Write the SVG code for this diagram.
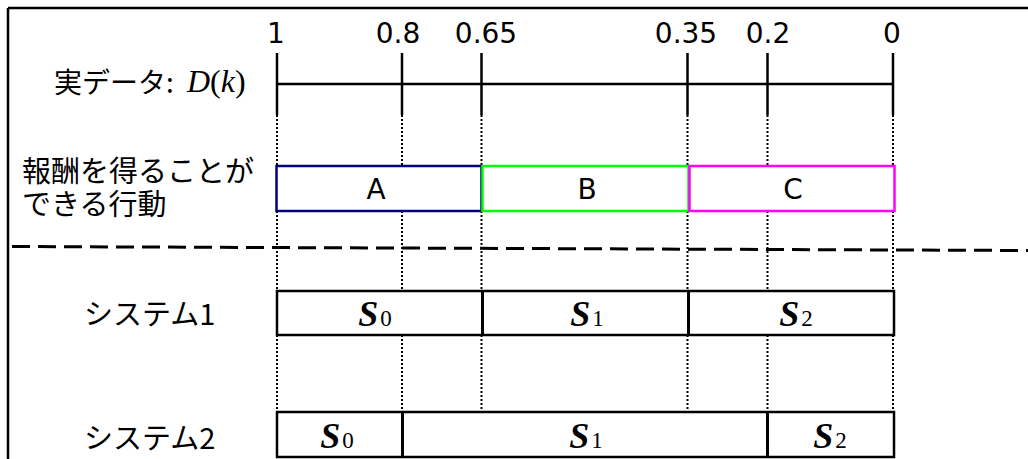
<svg xmlns="http://www.w3.org/2000/svg" width="1028" height="459" viewBox="0 0 1028 459">
<style>
.jp{font-family:"Noto Sans CJK JP","Noto Sans",sans-serif;fill:#000}
.num{font-family:"DejaVu Sans",Verdana,sans-serif;font-size:28px;fill:#000;text-anchor:middle}
.tm{font-family:"Liberation Serif","Times New Roman",serif;fill:#000}
.dot{stroke:#000;stroke-width:2;stroke-dasharray:2 2;fill:none}
.box{fill:#fff;stroke-width:2.5}
.sys{fill:#fff;stroke:#000;stroke-width:2.5}
.s{font-family:"Liberation Serif","Times New Roman",serif;font-style:italic;font-weight:bold;font-size:36px;fill:#000}
.sub{font-family:"Liberation Serif","Times New Roman",serif;font-style:normal;font-weight:normal;font-size:23px}
</style>
<rect width="1028" height="459" fill="#fff"/>
<g id="frame" stroke="#000" stroke-width="2.5" fill="none">
<line x1="8" y1="8" x2="1028" y2="8"/>
<line x1="8" y1="8" x2="8" y2="459"/>
</g>
<g id="connectors">
<line x1="12" y1="246.5" x2="1028" y2="250.5" stroke="#000" stroke-width="3" stroke-dasharray="18 8"/>
<line class="dot" x1="277" y1="115" x2="277" y2="412"/>
<line class="dot" x1="402" y1="115" x2="402" y2="412"/>
<line class="dot" x1="481.5" y1="115" x2="481.5" y2="412"/>
<line class="dot" x1="687.5" y1="115" x2="687.5" y2="412"/>
<line class="dot" x1="767.5" y1="115" x2="767.5" y2="412"/>
<line class="dot" x1="893" y1="115" x2="893" y2="412"/>
</g>
<g id="axis" stroke="#000" stroke-width="2.5">
<line x1="277" y1="84" x2="893" y2="84"/>
<line x1="277" y1="53" x2="277" y2="115"/>
<line x1="402" y1="53" x2="402" y2="115"/>
<line x1="481.5" y1="53" x2="481.5" y2="115"/>
<line x1="687.5" y1="53" x2="687.5" y2="115"/>
<line x1="767.5" y1="53" x2="767.5" y2="115"/>
<line x1="893" y1="53" x2="893" y2="115"/>
</g>
<g id="ticks-labels">
<text class="num" x="276" y="43">1</text>
<text class="num" x="398" y="43">0.8</text>
<text class="num" x="486" y="43">0.65</text>
<text class="num" x="686" y="43">0.35</text>
<text class="num" x="768" y="43">0.2</text>
<text class="num" x="892" y="43">0</text>
</g>
<g id="label-data">
<text class="jp" x="54" y="93" font-size="28">実データ:</text>
<text class="tm" x="187" y="92" font-size="32"><tspan font-style="italic">D</tspan>(<tspan font-style="italic">k</tspan>)</text>
</g>
<g id="label-action">
<text class="jp" font-size="29"><tspan x="22" y="182">報酬を得ることが</tspan><tspan x="22" y="215">できる行動</tspan></text>
</g>
<g id="box-A">
<rect class="box" x="276.5" y="166" width="205" height="45" stroke="#000080"/>
<text class="num" x="376" y="199">A</text>
</g>
<g id="box-B">
<rect class="box" x="482.5" y="166" width="206" height="45" stroke="#00ff00"/>
<text class="num" x="587" y="199">B</text>
</g>
<g id="box-C">
<rect class="box" x="689.5" y="166" width="205" height="45" stroke="#ff00ff"/>
<text class="num" x="793" y="199">C</text>
</g>
<g id="label-sys1"><text class="jp" x="84" y="325" font-size="29">システム1</text></g>
<g id="label-sys2"><text class="jp" x="84" y="449" font-size="29">システム2</text></g>
<g id="sys1">
<rect class="sys" x="277" y="291" width="617" height="44"/>
<line x1="482.5" y1="291" x2="482.5" y2="335" stroke="#000" stroke-width="3"/>
<line x1="688.5" y1="291" x2="688.5" y2="335" stroke="#000" stroke-width="3"/>
<text class="s" x="375" y="326" text-anchor="middle">S<tspan class="sub" dx="2">0</tspan></text>
<text class="s" x="587" y="326" text-anchor="middle">S<tspan class="sub" dx="2">1</tspan></text>
<text class="s" x="796" y="326" text-anchor="middle">S<tspan class="sub" dx="2">2</tspan></text>
</g>
<g id="sys2">
<rect class="sys" x="277" y="412" width="617" height="45"/>
<line x1="402.5" y1="412" x2="402.5" y2="457" stroke="#000" stroke-width="3"/>
<line x1="767.5" y1="412" x2="767.5" y2="457" stroke="#000" stroke-width="3"/>
<text class="s" x="337" y="448" text-anchor="middle">S<tspan class="sub" dx="2">0</tspan></text>
<text class="s" x="586" y="448" text-anchor="middle">S<tspan class="sub" dx="2">1</tspan></text>
<text class="s" x="830" y="448" text-anchor="middle">S<tspan class="sub" dx="2">2</tspan></text>
</g>
</svg>
